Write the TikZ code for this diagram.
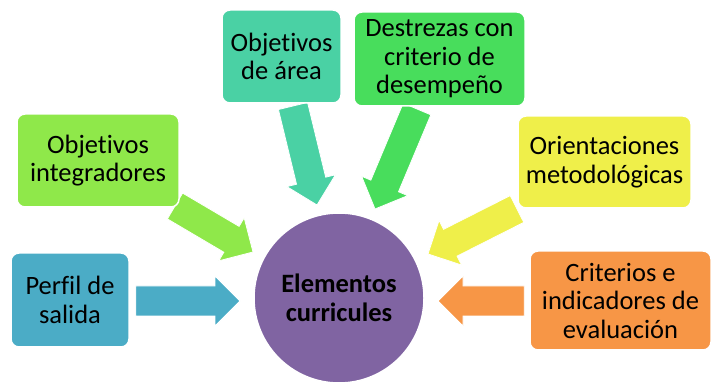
\documentclass[tikz,border=0pt]{standalone}
\usepackage{fontspec}
\setmainfont[Ligatures=NoCommon]{Carlito}
\usepackage{tikz}
\usetikzlibrary{calc,backgrounds}
\definecolor{PerfilBlue}{HTML}{4BACC6}
\definecolor{IntegLime}{HTML}{8FE84A}
\definecolor{AreaTeal}{HTML}{4AD1A4}
\definecolor{DestrGreen}{HTML}{48DD5C}
\definecolor{OrientYellow}{HTML}{EFEF4A}
\definecolor{CritOrange}{HTML}{F79646}
\definecolor{ElemPurple}{HTML}{8064A2}

% block arrow: colour, tail, tip
\newcommand{\blockarrow}[3]{%
  \coordinate (hb) at ($(#3)!25pt!(#2)$);
  \fill[#1,draw=white,line width=0.8pt]
    ($(#2)!15pt!90:(#3)$) -- ($(hb)!15pt!-90:(#2)$) -- ($(hb)!25pt!-90:(#2)$) -- (#3)
    -- ($(hb)!25pt!90:(#2)$) -- ($(hb)!15pt!90:(#2)$) -- ($(#2)!15pt!-90:(#3)$) -- cycle;}

\begin{document}
\begin{tikzpicture}[x=1pt,y=1pt,
  font=\fontsize{26.5}{28.5}\selectfont,
  box/.style={rounded corners=8pt,draw=white,line width=1.5pt,align=center,inner sep=0pt},
  hub/.style={circle,draw=white,line width=1.5pt,fill=ElemPurple,minimum size=170pt,
              align=center,inner sep=0pt,font=\bfseries\fontsize{26.5}{28.5}\selectfont},
]
\useasboundingbox (0,0) rectangle (711,382);

\node[box,fill=PerfilBlue,minimum width=118pt,minimum height=94pt]   (perfil) at (70,82)     {Perfil de\\salida};
\node[box,fill=IntegLime,minimum width=162pt,minimum height=93pt]    (integ)  at (98,221.5)  {Objetivos\\integradores};
\node[box,fill=AreaTeal,minimum width=119pt,minimum height=93pt]     (area)   at (281.5,325.5) {Objetivos\\de área};
\node[box,fill=DestrGreen,minimum width=171pt,minimum height=94pt]   (destr)  at (439.5,323) {Destrezas con\\criterio de\\desempeño};
\node[box,fill=OrientYellow,minimum width=173pt,minimum height=92pt] (orient) at (604.5,220) {Orientaciones\\metodológicas};
\node[box,fill=CritOrange,minimum width=181pt,minimum height=99pt]   (crit)   at (620.5,81.5) {Criterios e\\indicadores de\\evaluación};
\node[hub] (elem) at (339,84) {Elementos\\curricules};

% arrow tails and tips
\coordinate (perfilT) at ($(perfil.east)+(6,-1)$);
\coordinate (perfilP) at (240,81);
\coordinate (integT)  at (175,176);
\coordinate (integP)  at (253,130);
\coordinate (areaT)   at (293,276);
\coordinate (areaP)   at (317,177);
\coordinate (destrT)  at (417,273);
\coordinate (destrP)  at (375,173);
\coordinate (orientT) at (517,173);
\coordinate (orientP) at (428,128);
\coordinate (critT)   at ($(crit.west)+(-5,-0.5)$);
\coordinate (critP)   at (438,81);

\begin{scope}[on background layer]
\foreach \c/\a/\b in {PerfilBlue/perfilT/perfilP,IntegLime/integT/integP,AreaTeal/areaT/areaP,
                      DestrGreen/destrT/destrP,OrientYellow/orientT/orientP,CritOrange/critT/critP}
  \blockarrow{\c}{\a}{\b};
\end{scope}
\end{tikzpicture}
\end{document}
